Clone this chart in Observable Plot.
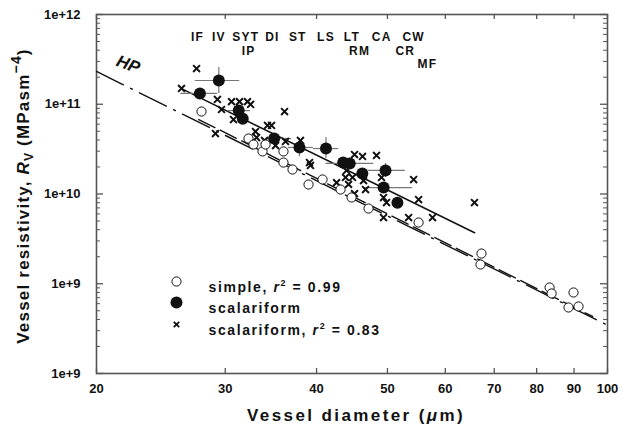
<!DOCTYPE html>
<html><head><meta charset="utf-8">
<script src="https://cdn.jsdelivr.net/npm/d3@7"></script>
<script src="https://cdn.jsdelivr.net/npm/@observablehq/plot@0.6"></script>
<style>
html,body{margin:0;padding:0;background:#fff;}
</style>
</head><body><div id="chart"></div>
<script>
// ---- tick labels ----
const xTicks = [20, 30, 40, 50, 60, 70, 80, 90, 100];
const yTickValues = [1e8, 1e9, 1e10, 1e11, 1e12];
const yTickLabels = ["1e+9", "1e+9", "1e+10", "1e+11", "1e+12"];

// ---- simple perforation plates (open circles) ----
const simpleD = [27.84, 32.28, 32.79, 33.74, 34.06, 36.04, 36.04, 37.08, 39.00, 40.76, 43.14, 44.66, 47.11, 55.16, 67.24, 67.03, 83.33, 83.86, 89.85, 88.45, 91.28];
const simpleR = [8.30e10, 4.15e10, 3.56e10, 2.98e10, 3.56e10, 2.98e10, 2.24e10, 1.875e10, 1.276e10, 1.451e10, 1.122e10, 9.14e9, 6.89e9, 4.81e9, 2.17e9, 1.639e9, 9.08e8, 7.79e8, 7.99e8, 5.44e8, 5.58e8];

// ---- scalariform, individual (x markers) ----
const scalD = [26.14, 27.41, 29.27, 29.65, 30.60, 31.38, 32.18, 32.49, 30.79, 29.09, 33.00, 33.11, 34.27, 34.71, 36.16, 33.95, 35.15, 36.27, 38.02, 39.12, 39.24, 42.60, 43.82, 44.80, 45.08, 46.23, 48.31, 43.96, 46.38, 46.67, 45.08, 44.24, 49.08, 54.30, 49.39, 49.86, 55.16, 65.77, 49.39, 53.45, 57.63];
const scalR = [1.50e11, 2.50e11, 1.13e11, 8.74e10, 1.07e11, 1.07e11, 1.07e11, 9.94e10, 6.76e10, 4.72e10, 4.97e10, 4.26e10, 5.80e10, 5.80e10, 8.30e10, 3.95e10, 3.47e10, 3.85e10, 3.95e10, 2.24e10, 2.08e10, 1.34e10, 1.53e10, 1.53e10, 2.75e10, 2.62e10, 2.69e10, 1.83e10, 1.41e10, 1.12e10, 1.01e10, 1.28e10, 1.53e10, 1.45e10, 9.14e9, 8.04e9, 8.68e9, 8.04e9, 5.47e9, 5.47e9, 5.47e9];

// ---- scalariform species means (filled circles) with error bars ----
const speciesNames = ["IF", "IV", "SYT", "IP", "DI", "ST", "LS", "LT", "RM", "CA", "CW", "CR", "MF"];
const speciesD   = [27.7, 29.4, 31.3, 31.7, 35.0, 37.9, 41.2, 43.5, 44.4, 46.2, 49.7, 49.4, 51.6];
const speciesR   = [1.32e11, 1.84e11, 8.5e10, 6.9e10, 4.15e10, 3.30e10, 3.21e10, 2.24e10, 2.19e10, 1.69e10, 1.83e10, 1.18e10, 8.0e9];
const speciesDlo = [26.1, 27.3, 30.2, null, 34.2, 36.6, 39.6, null, 41.2, null, 47.1, 46.5, null];
const speciesDhi = [29.3, 31.4, 32.5, null, 37.0, 39.6, 42.9, null, 47.9, null, 52.9, 54.1, null];
const speciesRlo = [null, 1.32e11, null, null, null, 2.6e10, 2.49e10, null, null, null, 1.53e10, null, null];
const speciesRhi = [null, 2.57e11, null, null, null, 4.1e10, 4.26e10, null, null, null, 2.19e10, null, null];

// ---- species labels along the top ----
const labelNames = ["IF", "IV", "SYT", "IP", "DI", "ST", "LS", "LT", "RM", "CA", "CW", "CR", "MF"];
const labelD     = [27.5, 29.4, 32.0, 32.3, 34.8, 37.7, 41.2, 44.7, 45.8, 49.1, 54.3, 52.9, 56.7];
const labelRow   = [0, 0, 0, 1, 0, 0, 0, 0, 1, 0, 0, 1, 2];

// ---- lines ----
const hpD = [20, 100], hpR = [2.32e11, 3.45e8];             // Hagen-Poiseuille
const simpleFitD = [27.6, 95.4], simpleFitR = [6.76e10, 4.32e8];
const scalFitD = [26.1, 65.8], scalFitR = [1.5e11, 3.7e9];
const hpLabel = {d: 22.1, r: 2.77e11, text: "HP"};

// ---- legend / titles ----
const legendLabels = ["simple, r2 = 0.99", "scalariform", "scalariform, r2 = 0.83"];
const xTitle = "Vessel diameter (\u03bcm)";
const yTitle = "Vessel resistivity, RV (MPasm-4)";

// ---- build tables ----
const simple = simpleD.map((d, i) => ({d, r: simpleR[i]}));
const scal = scalD.map((d, i) => ({d, r: scalR[i]}));
const species = speciesNames.map((n, i) => ({n, d: speciesD[i], r: speciesR[i], dlo: speciesDlo[i], dhi: speciesDhi[i], rlo: speciesRlo[i], rhi: speciesRhi[i]}));
const labels = labelNames.map((n, i) => ({n, d: labelD[i], row: labelRow[i]}));
const line = (D, R) => D.map((d, i) => ({d, r: R[i]}));
const yMajor = yTickValues.map((v, i) => ({v, label: yTickLabels[i]}));
const yMinor = [];
for (let e = 8; e < 12; e++) for (let k = 2; k <= 9; k++) yMinor.push(k * Math.pow(10, e));

const W = 622, H = 436, mL = 96, mR = 15, mT = 14, mB = 63;
const fW = W - mL - mR, fH = H - mT - mB;
const axisCol = "#555";
const font = "'Liberation Sans', Arial, Helvetica, sans-serif";

const chart = Plot.plot({
  width: W, height: H,
  marginLeft: mL, marginRight: mR, marginTop: mT, marginBottom: mB,
  x: {type: "log", domain: [20, 100], axis: null},
  y: {type: "log", domain: [1e8, 1e12], axis: null},
  style: {fontFamily: font, background: "white", overflow: "visible"},
  marks: [
    // ticks
    Plot.tickX(xTicks, {x: d => d, insetTop: fH - 5, stroke: axisCol, strokeWidth: 1.3}),
    Plot.tickX(xTicks, {x: d => d, insetBottom: fH - 5, stroke: axisCol, strokeWidth: 1.3}),
    Plot.tickY(yTickValues, {y: d => d, insetRight: fW - 7, stroke: axisCol, strokeWidth: 1.3}),
    Plot.tickY(yTickValues, {y: d => d, insetLeft: fW - 7, stroke: axisCol, strokeWidth: 1.3}),
    Plot.tickY(yMinor, {y: d => d, insetRight: fW - 4, stroke: axisCol, strokeWidth: 1}),
    Plot.tickY(yMinor, {y: d => d, insetLeft: fW - 4, stroke: axisCol, strokeWidth: 1}),
    Plot.frame({stroke: axisCol, strokeWidth: 1.6}),
    // tick labels
    Plot.text(xTicks, {x: d => d, frameAnchor: "bottom", dy: 19, text: d => String(d), fontSize: 13, fontWeight: "bold", fill: "#111"}),
    Plot.text(yMajor, {y: "v", frameAnchor: "left", dx: -16, textAnchor: "end", text: "label", fontSize: 13, fontWeight: "bold", fill: "#111"}),
    // axis titles
    Plot.text([xTitle], {frameAnchor: "bottom", dy: 47, dx: 4, textAnchor: "middle", text: d => d, fontSize: 17, fontWeight: "bold", fill: "#111"}),
    Plot.text([yTitle], {frameAnchor: "left", dx: -73, dy: 2, rotate: -90, textAnchor: "middle", text: d => d, fontSize: 17, fontWeight: "bold", fill: "#111"}),
    // lines
    Plot.line(line(hpD, hpR), {x: "d", y: "r", stroke: "#111", strokeWidth: 1.4, strokeDasharray: "30,8,2,8"}),
    Plot.line(line(simpleFitD, simpleFitR), {x: "d", y: "r", stroke: "#111", strokeWidth: 1.4, strokeDasharray: "18,6"}),
    Plot.line(line(scalFitD, scalFitR), {x: "d", y: "r", stroke: "#111", strokeWidth: 1.5}),
    // error bars
    Plot.ruleY(species.filter(s => s.dlo != null), {y: "r", x1: "dlo", x2: "dhi", stroke: "#777", strokeWidth: 1.2}),
    Plot.ruleX(species.filter(s => s.rlo != null), {x: "d", y1: "rlo", y2: "rhi", stroke: "#777", strokeWidth: 1.2}),
    // points
    Plot.dot(scal, {x: "d", y: "r", symbol: "times", r: 3.2, stroke: "#111", strokeWidth: 2}),
    Plot.dot(simple, {x: "d", y: "r", r: 4.6, stroke: "#111", strokeWidth: 1, fill: "white"}),
    Plot.dot(species, {x: "d", y: "r", r: 6, fill: "#111", stroke: "none"}),
    // species labels at top
    Plot.text(labels.filter(l => l.row === 0), {x: "d", frameAnchor: "top", dy: 18, text: "n", fontSize: 12, fontWeight: "bold", fill: "#111"}),
    Plot.text(labels.filter(l => l.row === 1), {x: "d", frameAnchor: "top", dy: 32, text: "n", fontSize: 12, fontWeight: "bold", fill: "#111"}),
    Plot.text(labels.filter(l => l.row === 2), {x: "d", frameAnchor: "top", dy: 45, text: "n", fontSize: 12, fontWeight: "bold", fill: "#111"}),
    // HP label
    Plot.text([hpLabel], {x: "d", y: "r", text: "text", rotate: 20, fontSize: 17, fontWeight: "bold", fontStyle: "italic", fill: "#111"}),
    // legend
    Plot.dot([0], {frameAnchor: "top-left", dx: 80, dy: 267, r: 4.6, stroke: "#111", strokeWidth: 1, fill: "white"}),
    Plot.dot([0], {frameAnchor: "top-left", dx: 80, dy: 288, r: 6, fill: "#111"}),
    Plot.dot([0], {frameAnchor: "top-left", dx: 80, dy: 310, r: 2.6, symbol: "times", stroke: "#111", strokeWidth: 1.8}),
    Plot.text([legendLabels[0]], {frameAnchor: "top-left", dx: 112, dy: 268, text: d => d, textAnchor: "start", fontSize: 14, fontWeight: "bold", fill: "#111"}),
    Plot.text([legendLabels[1]], {frameAnchor: "top-left", dx: 112, dy: 289, text: d => d, textAnchor: "start", fontSize: 14, fontWeight: "bold", fill: "#111"}),
    Plot.text([legendLabels[2]], {frameAnchor: "top-left", dx: 112, dy: 311, text: d => d, textAnchor: "start", fontSize: 14, fontWeight: "bold", fill: "#111"})
  ]
});

document.getElementById("chart").appendChild(chart);

// rich-text post-processing (letter spacing, italics, super/subscripts)
d3.select(chart).selectAll("text").each(function () {
  const t = this.textContent;
  if (labelNames.includes(t)) {
    this.style.letterSpacing = "1.2px";
  } else if (t === legendLabels[0]) {
    this.style.letterSpacing = "1.6px";
    this.innerHTML = 'simple, <tspan font-style="italic">r</tspan><tspan dy="-6" font-size="9">2</tspan><tspan dy="6"> = 0.99</tspan>';
  } else if (t === legendLabels[1]) {
    this.style.letterSpacing = "1.6px";
  } else if (t === legendLabels[2]) {
    this.style.letterSpacing = "1.6px";
    this.innerHTML = 'scalariform, <tspan font-style="italic">r</tspan><tspan dy="-6" font-size="9">2</tspan><tspan dy="6"> = 0.83</tspan>';
  } else if (t === yTitle) {
    this.style.letterSpacing = "1.2px";
    this.innerHTML = 'Vessel resistivity, <tspan font-style="italic">R</tspan><tspan dy="4" font-size="12">V</tspan><tspan dy="-4"> (MPasm</tspan><tspan dy="-8" font-size="14">\u22124</tspan><tspan dy="8">)</tspan>';
  } else if (t === xTitle) {
    this.style.letterSpacing = "2.4px";
    this.innerHTML = 'Vessel diameter (<tspan font-style="italic">\u03bc</tspan>m)';
  }
});
</script>
</body></html>
